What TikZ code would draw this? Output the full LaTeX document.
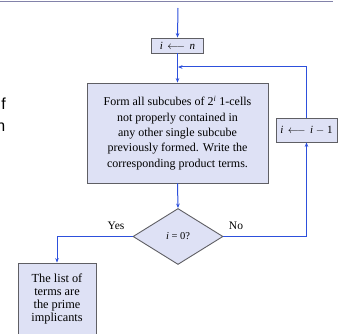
\documentclass[tikz,border=0pt]{standalone}
\usepackage{fontspec}
\setmainfont{Liberation Serif}
\newfontfamily\sansf{Liberation Sans}
\usetikzlibrary{shapes.geometric,arrows.meta,shadows}
\definecolor{boxfill}{RGB}{222,225,245}
\definecolor{boxline}{RGB}{95,95,100}
\definecolor{flow}{RGB}{45,80,220}
\definecolor{rulecol}{RGB}{130,130,170}
\begin{document}
\begin{tikzpicture}[x=1pt,y=-1pt,
  box/.style={draw=boxline, fill=boxfill, line width=0.9pt, inner sep=0pt, align=center,
    drop shadow={shadow xshift=0.8pt, shadow yshift=-0.8pt, opacity=0.5, fill=black}},
  decbox/.style={diamond, draw=boxline, fill=boxfill, line width=0.9pt, inner sep=0pt,
    minimum width=90pt, minimum height=56pt, shape aspect=1.6},
  flowline/.style={draw=flow, line width=1pt},
  flowarrow/.style={flowline, -{Stealth[length=4.5pt,width=3.6pt]}},
  lbl/.style={font=\fontsize{11.5}{13}\selectfont, inner sep=0pt},
  frag/.style={font=\sansf\fontsize{16}{16}\selectfont, inner sep=0pt, anchor=base east}]
\useasboundingbox (0,0) rectangle (338,334);
\draw[rulecol, line width=1.6pt] (0,1.5) -- (333,1.5);
\node[frag] (fragf) at (6,110) {f};
\node[frag] (fragn) at (5.5,132) {n};

\coordinate (start) at (178,8);
\node[box, minimum width=52pt, minimum height=15pt, font=\fontsize{11}{13}\selectfont] (init) at (177.5,45.5)
  {\textit{i}\, $\longleftarrow$\, \textit{n}};
\coordinate (join) at (178,67);
\node[box, minimum width=181pt, minimum height=100pt, font=\fontsize{12}{15.3}\selectfont] (form) at (177.5,133)
  {Form all subcubes of 2\textsuperscript{\textit{i}} 1-cells\\not properly contained in\\any other single subcube\\previously formed. Write the\\corresponding product terms.};
\node[decbox, font=\fontsize{10.5}{12}\selectfont] (dec) at (178,236.5) {\textit{i} = 0?};
\node[box, minimum width=61pt, minimum height=24pt, font=\fontsize{11}{13}\selectfont] (decr) at (306.5,130)
  {\textit{i}\, $\longleftarrow$\, \textit{i} $-$ 1};
\node[box, minimum width=78pt, minimum height=72pt, font=\fontsize{12.3}{12.8}\selectfont] (list) at (57,299)
  {The list of\\terms are\\the prime\\implicants};

\draw[flowarrow] (start) -- (init.north);
\draw[flowarrow] (init.south) -- (form.north);
\draw[flowarrow] (form.south) -- (dec.north);
\draw[flowarrow] (dec.east) -| (decr.south);
\draw[flowarrow] (decr.north) |- (join);
\draw[flowarrow] (dec.west) -| (list.north);
\node[lbl] (yes) at (116,226) {Yes};
\node[lbl] (no) at (236,226) {No};
\end{tikzpicture}
\end{document}
